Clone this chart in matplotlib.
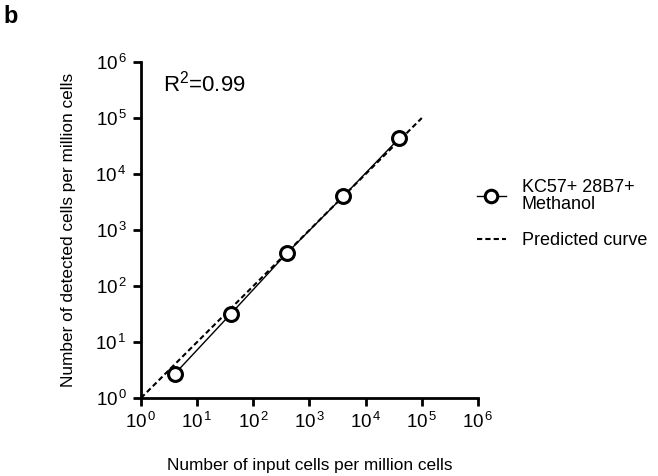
import numpy as np
import matplotlib.pyplot as plt

plt.rcParams['font.family'] = ['Liberation Sans', 'DejaVu Sans']
plt.rcParams['mathtext.fontset'] = 'custom'
plt.rcParams['mathtext.rm'] = 'Liberation Sans'
plt.rcParams['mathtext.it'] = 'Liberation Sans'

# data
input_cells = [4, 40, 400, 4000, 40000]
detected_cells = [2.7, 32, 390, 4000, 44000]
pred_x = [1, 1e5]
pred_y = [1, 1e5]
decades = [0, 1, 2, 3, 4, 5, 6]

fig = plt.figure(figsize=(6.58, 4.76), dpi=100)
ax = fig.add_axes([0.2143, 0.1639, 0.5121, 0.7058])

ax.plot(pred_x, pred_y, color='black', lw=1.5, ls=(0, (2.5, 1.5)), label='Predicted curve', zorder=2)
ax.plot(input_cells, detected_cells, color='black', lw=1, marker='o', ms=10,
        mfc='white', mec='black', mew=2.2, label='KC57+ 28B7+\nMethanol', zorder=3)

ax.set_xscale('log')
ax.set_yscale('log')
ax.set_xlim(1, 1e6)
ax.set_ylim(1, 1e6)
ticks = [10.0 ** d for d in decades]
labels = ['$10^{\\,%d}$' % d for d in decades]
ax.set_xticks(ticks)
ax.set_xticklabels(labels)
ax.set_yticks(ticks)
ax.set_yticklabels(labels)
ax.minorticks_off()
ax.tick_params(axis='both', direction='out', length=6, width=2, labelsize=13.5, pad=4)

for s in ['top', 'right']:
    ax.spines[s].set_visible(False)
for s in ['left', 'bottom']:
    ax.spines[s].set_linewidth(2)

ax.set_xlabel('Number of input cells per million cells', fontsize=12.4, labelpad=19)
ax.set_ylabel('Number of detected cells per million cells', fontsize=12.4, labelpad=14)

ax.text(0.065, 0.975, '$\\mathregular{R^2}$=0.99', transform=ax.transAxes, fontsize=16, va='top')

handles, lbls = ax.get_legend_handles_labels()
leg = fig.legend(handles[::-1], lbls[::-1], loc='center left', bbox_to_anchor=(0.70, 0.55),
                 frameon=False, fontsize=13, handlelength=1.6, handletextpad=0.9, labelspacing=1.05)
leg.legend_handles[0].set_markersize(9)
for t in leg.get_texts():
    t.set_linespacing(1.0)

fig.text(0.006, 0.99, 'b', fontsize=17, fontweight='bold', va='top')

fig.savefig('out.png', dpi=100)
